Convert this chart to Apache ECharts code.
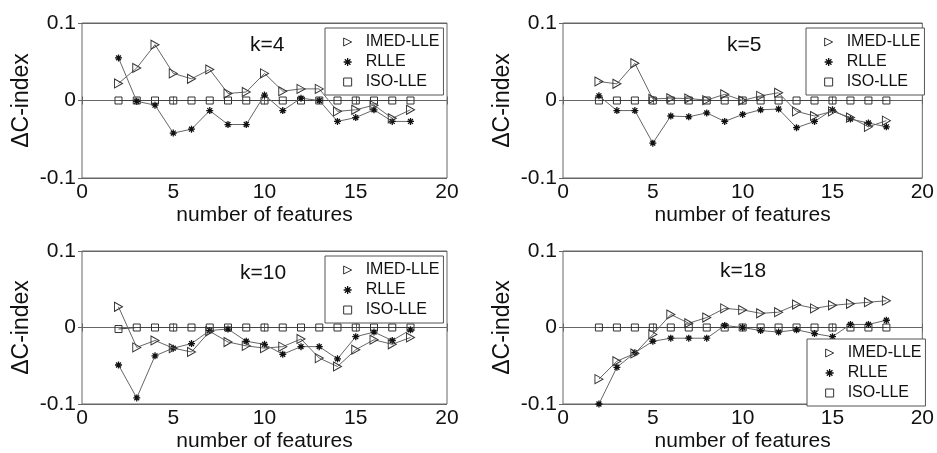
<!DOCTYPE html>
<html>
<head>
<meta charset="utf-8">
<script src="https://cdn.jsdelivr.net/npm/echarts@6/dist/echarts.min.js"></script>
<style>
  html, body { margin: 0; padding: 0; background: #fff; }
  #chart { width: 937px; height: 453px; }
</style>
</head>
<body>
<div id="chart"></div>
<script>
// number of features on the x axis
var features = [2, 3, 4, 5, 6, 7, 8, 9, 10, 11, 12, 13, 14, 15, 16, 17, 18];

// k=4
var imedK4 = [0.022, 0.042, 0.072, 0.035, 0.028, 0.040, 0.009, 0.011, 0.035, 0.012, 0.015, 0.015, -0.014, -0.012, -0.006, -0.023, -0.012];
var rlleK4 = [0.055, -0.001, -0.006, -0.042, -0.037, -0.013, -0.031, -0.031, 0.007, -0.013, 0.003, 0.000, -0.027, -0.022, -0.012, -0.027, -0.027];
var isoK4 = [0, 0, 0, 0, 0, 0, 0, 0, 0, 0, 0, 0, 0, 0, 0, 0, 0];

// k=5
var imedK5 = [0.0245, 0.0215, 0.048, 0.002, 0.003, 0.0025, 0.0005, 0.008, 0.000, 0.006, 0.010, -0.014, -0.020, -0.014, -0.022, -0.034, -0.026];
var rlleK5 = [0.006, -0.013, -0.013, -0.055, -0.020, -0.021, -0.016, -0.027, -0.018, -0.012, -0.011, -0.035, -0.027, -0.012, -0.024, -0.029, -0.034];
var isoK5 = [0, 0, 0, 0, 0, 0, 0, 0, 0, 0, 0, 0, 0, 0, 0, 0, 0];

// k=10
var imedK10 = [0.027, -0.026, -0.017, -0.027, -0.032, -0.005, -0.019, -0.024, -0.027, -0.025, -0.015, -0.040, -0.051, -0.029, -0.016, -0.022, -0.013];
var rlleK10 = [-0.049, -0.092, -0.037, -0.027, -0.021, -0.004, -0.002, -0.018, -0.022, -0.035, -0.025, -0.025, -0.041, -0.012, -0.006, -0.017, -0.003];
var isoK10 = [-0.002, 0, 0, 0, 0, 0, 0, 0, 0, 0, 0, 0, 0, 0, 0, 0, 0];

// k=18
var imedK18 = [-0.0675, -0.044, -0.034, -0.009, 0.017, 0.0056, 0.013, 0.025, 0.023, 0.0185, 0.020, 0.030, 0.025, 0.029, 0.031, 0.033, 0.035];
var rlleK18 = [-0.100, -0.052, -0.033, -0.018, -0.014, -0.014, -0.014, 0.0026, 0.000, -0.004, -0.006, -0.003, -0.008, -0.012, 0.004, 0.004, 0.0095];
var isoK18 = [0, 0, 0, 0, 0, 0, 0, 0, 0, 0, 0, 0, 0, 0, 0, 0, 0];

var panelTitles = ['k=4', 'k=5', 'k=10', 'k=18'];
var seriesNames = ['IMED-LLE', 'RLLE', 'ISO-LLE'];
var panelData = [
  [imedK4, rlleK4, isoK4],
  [imedK5, rlleK5, isoK5],
  [imedK10, rlleK10, isoK10],
  [imedK18, rlleK18, isoK18]
];

var FONT = '"Liberation Sans", Arial, Helvetica, sans-serif';
var triPath = 'path://M0,0L10,5L0,10Z';
var starPath = 'path://M0,5L10,5M5,0L5,10M1.5,1.5L8.5,8.5M8.5,1.5L1.5,8.5';
var symbols = [triPath, starPath, 'rect'];
var symbolSizes = [[8, 9], 7, 7];
var symbolStroke = [
  { color: '#333', width: 1 },
  { color: '#111', width: 1.3 },
  { color: '#333', width: 1 }
];

// grid boxes (left, top) for the 2x2 layout
var grids = [
  { left: 82, top: 23 },
  { left: 563, top: 23 },
  { left: 82, top: 251 },
  { left: 563, top: 251 }
];
var titlePos = [
  { left: 250, top: 35 },
  { left: 727, top: 35 },
  { left: 240, top: 263 },
  { left: 720, top: 261 }
];
var legendPos = [
  { left: 325, top: 28 },
  { left: 806, top: 28 },
  { left: 325, top: 256 },
  { left: 807, top: 339 }
];

var chart = echarts.init(document.getElementById('chart'));

var option = {
  animation: false,
  backgroundColor: '#fff',
  textStyle: { fontFamily: FONT },
  grid: [], xAxis: [], yAxis: [], series: [], title: [], legend: []
};

grids.forEach(function (g, i) {
  option.grid.push({
    left: g.left, top: g.top, width: 365, height: 155,
    show: true, borderColor: '#666', borderWidth: 1, backgroundColor: 'transparent'
  });

  // bottom + top x axes
  option.xAxis.push({
    gridIndex: i, type: 'value', min: 0, max: 20, interval: 5,
    axisLine: { show: false },
    axisTick: { inside: true, length: 4, lineStyle: { color: '#666' } },
    axisLabel: { fontSize: 21, color: '#111', margin: 4, fontFamily: FONT },
    splitLine: { show: false },
    name: 'number of features', nameLocation: 'middle', nameGap: 27,
    nameTextStyle: { fontSize: 21, color: '#111', fontFamily: FONT }
  });
  option.xAxis.push({
    gridIndex: i, type: 'value', position: 'top', min: 0, max: 20, interval: 5,
    axisLine: { show: false },
    axisTick: { inside: true, length: 4, lineStyle: { color: '#666' } },
    axisLabel: { show: false }, splitLine: { show: false }
  });

  // left + right y axes
  option.yAxis.push({
    gridIndex: i, type: 'value', min: -0.1, max: 0.1, interval: 0.1,
    axisLine: { show: false },
    axisTick: { inside: true, length: 4, lineStyle: { color: '#666' } },
    axisLabel: { fontSize: 21, color: '#111', margin: 6, fontFamily: FONT },
    splitLine: { show: true, lineStyle: { color: '#666', width: 1 } },
    name: 'ΔC-index', nameLocation: 'middle', nameGap: 49,
    nameTextStyle: { fontSize: 23, color: '#111', fontFamily: FONT }
  });
  option.yAxis.push({
    gridIndex: i, type: 'value', position: 'right', min: -0.1, max: 0.1, interval: 0.1,
    axisLine: { show: false },
    axisTick: { inside: true, length: 4, lineStyle: { color: '#666' } },
    axisLabel: { show: false }, splitLine: { show: false }
  });

  option.title.push({
    text: panelTitles[i], left: titlePos[i].left, top: titlePos[i].top, padding: 0,
    textStyle: { fontSize: 21, fontWeight: 'normal', color: '#111', fontFamily: FONT }
  });

  option.legend.push({
    orient: 'vertical',
    left: legendPos[i].left, top: legendPos[i].top,
    backgroundColor: '#fff', borderColor: '#555', borderWidth: 1, borderRadius: 0,
    padding: [6, 4, 5, 18],
    itemWidth: 8, itemHeight: 8, itemGap: 4,
    selectedMode: false,
    textStyle: { fontSize: 16, color: '#111', fontFamily: FONT, lineHeight: 16, padding: [0, 0, 0, 9] },
    data: seriesNames.map(function (n, s) {
      return {
        name: n, icon: symbols[s],
        itemStyle: { color: 'rgba(0,0,0,0)', borderColor: symbolStroke[s].color, borderWidth: symbolStroke[s].width }
      };
    })
  });

  panelData[i].forEach(function (vals, s) {
    option.series.push({
      name: seriesNames[s], type: 'line',
      xAxisIndex: 2 * i, yAxisIndex: 2 * i,
      data: features.map(function (f, j) { return [f, vals[j]]; }),
      symbol: symbols[s], symbolSize: symbolSizes[s], showAllSymbol: true,
      lineStyle: { color: s === 2 ? '#444' : '#666', width: 1 },
      itemStyle: { color: 'rgba(0,0,0,0)', borderColor: symbolStroke[s].color, borderWidth: symbolStroke[s].width },
      z: 3 - s
    });
  });
});

chart.setOption(option);
</script>
</body>
</html>
